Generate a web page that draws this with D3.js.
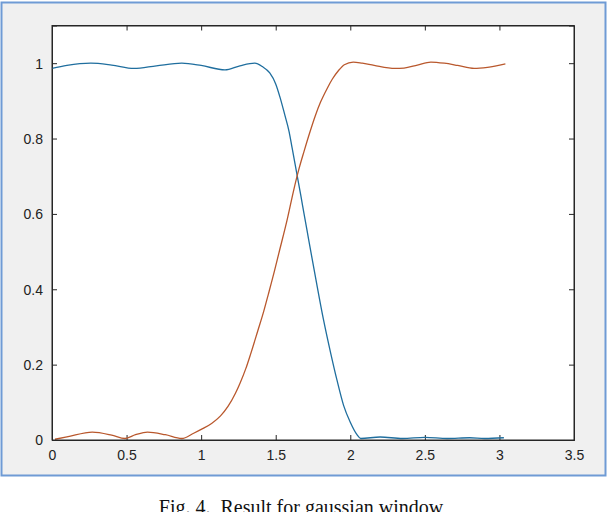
<!DOCTYPE html>
<html>
<head>
<meta charset="utf-8">
<script src="https://cdn.jsdelivr.net/npm/d3@7"></script>
<style>
  body { margin: 0; background: #fff; }
  svg { display: block; }
  .tick text { font-family: "Liberation Sans", Arial, sans-serif; font-size: 14px; fill: #222; }
</style>
</head>
<body>
<script>

// x ticks, y ticks
var xTicks = [0, 0.5, 1, 1.5, 2, 2.5, 3, 3.5];
var yTicks = [0, 0.2, 0.4, 0.6, 0.8, 1];

// blue series (x, y)
var blueX = [0, 0.1, 0.26, 0.4, 0.55, 0.7, 0.87, 1.0, 1.16, 1.26, 1.36, 1.41, 1.46, 1.5, 1.53, 1.56, 1.59, 1.61, 1.64, 1.67, 1.69, 1.71, 1.74, 1.77, 1.82, 1.87, 1.91, 1.955, 2.0, 2.045, 2.07, 2.2, 2.35, 2.5, 2.65, 2.8, 2.9, 3.03];
var blueY = [0.986, 0.994, 1.0, 0.995, 0.986, 0.993, 1.0, 0.994, 0.982, 0.993, 1.0, 0.991, 0.974, 0.945, 0.908, 0.864, 0.818, 0.775, 0.71, 0.645, 0.6, 0.556, 0.49, 0.425, 0.32, 0.228, 0.16, 0.092, 0.047, 0.014, 0.004, 0.008, 0.004, 0.007, 0.004, 0.006, 0.004, 0.006];

// orange series (x, y)
var redX = [0.02, 0.1, 0.27, 0.4, 0.49, 0.56, 0.64, 0.76, 0.87, 0.95, 1.01, 1.07, 1.13, 1.18, 1.23, 1.26, 1.3, 1.33, 1.38, 1.42, 1.45, 1.49, 1.52, 1.58, 1.62, 1.655, 1.69, 1.73, 1.765, 1.8, 1.845, 1.88, 1.92, 1.96, 2.02, 2.08, 2.16, 2.3, 2.36, 2.45, 2.54, 2.63, 2.72, 2.83, 2.92, 3.04];
var redY = [0.002, 0.008, 0.021, 0.013, 0.004, 0.014, 0.021, 0.014, 0.004, 0.018, 0.03, 0.044, 0.064, 0.089, 0.124, 0.15, 0.19, 0.226, 0.29, 0.342, 0.386, 0.446, 0.494, 0.59, 0.662, 0.718, 0.766, 0.818, 0.86, 0.896, 0.933, 0.958, 0.98, 0.996, 1.003, 1.0, 0.994, 0.986, 0.987, 0.995, 1.003, 1.0, 0.994, 0.986, 0.989, 0.998];

var caption = "Fig. 4.  Result for gaussian window";

var W = 608, H = 512;
var box = {left: 52, right: 574, top: 25.5, bottom: 440};

var svg = d3.select("body").append("svg")
    .attr("width", W)
    .attr("height", H);

// figure frame
svg.append("rect")
    .attr("x", 1.5).attr("y", 2.5)
    .attr("width", 604).attr("height", 473)
    .attr("fill", "#f0f0f0")
    .attr("stroke", "#6f9bd5")
    .attr("stroke-width", 2);

svg.append("rect")
    .attr("x", box.left).attr("y", box.top)
    .attr("width", box.right - box.left).attr("height", box.bottom - box.top)
    .attr("fill", "#fff");

var x = d3.scaleLinear().domain([0, 3.5]).range([box.left, box.right]);
var y = d3.scaleLinear().domain([0, 1.1]).range([box.bottom, box.top]);

// axes, ticks pointing inward like matlab
var xAxis = d3.axisBottom(x).tickValues(xTicks).tickSize(-5).tickPadding(10)
    .tickFormat(d3.format("~g"));
var yAxis = d3.axisLeft(y).tickValues(yTicks).tickSize(-5).tickPadding(9)
    .tickFormat(d3.format("~g"));

var gx = svg.append("g").attr("transform", "translate(0," + box.bottom + ")").call(xAxis);
var gy = svg.append("g").attr("transform", "translate(" + box.left + ",0)").call(yAxis);

svg.append("g").attr("transform", "translate(0," + box.top + ")")
    .call(d3.axisTop(x).tickValues(xTicks).tickSize(-5).tickFormat(""));
svg.append("g").attr("transform", "translate(" + box.right + ",0)")
    .call(d3.axisRight(y).tickValues(yTicks).tickSize(-5).tickFormat(""));

svg.selectAll(".domain").attr("stroke", "#262626");
svg.selectAll(".tick line").attr("stroke", "#262626");
gy.selectAll(".tick text").attr("dy", "0.35em");
gx.selectAll(".tick text").attr("dy", "0.7em");

var line = d3.line()
    .curve(d3.curveMonotoneX)
    .x(function(d){ return x(d[0]); })
    .y(function(d){ return y(d[1]); });

var blue = blueX.map(function(v, i){ return [v, blueY[i]]; });
var red = redX.map(function(v, i){ return [v, redY[i]]; });

svg.append("path").datum(blue)
    .attr("d", line)
    .attr("fill", "none")
    .attr("stroke", "#1f6e9e")
    .attr("stroke-width", 1.3);

svg.append("path").datum(red)
    .attr("d", line)
    .attr("fill", "none")
    .attr("stroke", "#b9582d")
    .attr("stroke-width", 1.3);

// box outline on top
svg.append("rect")
    .attr("x", box.left).attr("y", box.top)
    .attr("width", box.right - box.left).attr("height", box.bottom - box.top)
    .attr("fill", "none")
    .attr("stroke", "#262626")
    .attr("stroke-width", 1);

svg.append("text")
    .attr("x", 301).attr("y", 514)
    .attr("text-anchor", "middle")
    .style("font-family", "'Liberation Serif', 'Times New Roman', serif")
    .style("font-size", "20px")
    .style("fill", "#111")
    .style("white-space", "pre")
    .text(caption);

</script>
</body>
</html>
